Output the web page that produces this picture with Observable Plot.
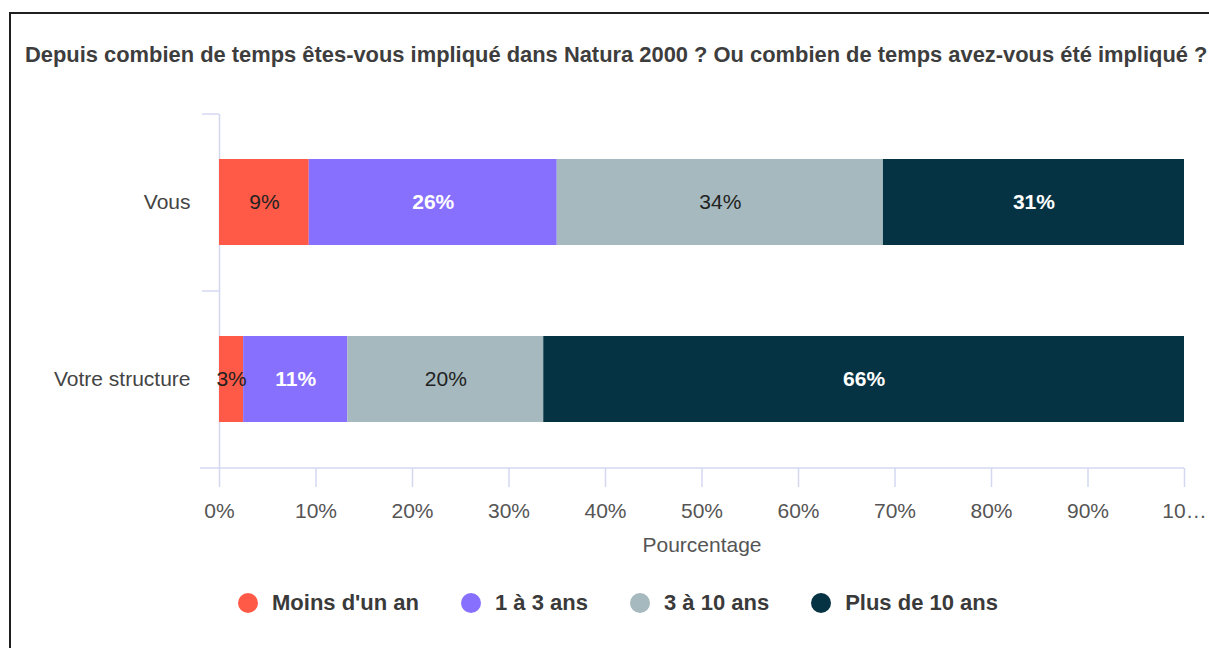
<!DOCTYPE html>
<html>
<head>
<meta charset="utf-8">
<script src="https://cdn.jsdelivr.net/npm/d3@7"></script>
<script src="https://cdn.jsdelivr.net/npm/@observablehq/plot@0.6"></script>
<style>
  html, body { margin: 0; padding: 0; background: #fff; }
  #wrap { position: relative; width: 1209px; height: 648px; overflow: hidden; background: #fff; font-family: "Liberation Sans", Arial, sans-serif; }
  #frame { position: absolute; left: 9px; top: 12px; width: 1400px; height: 800px; border-top: 2px solid #1f1f1f; border-left: 2px solid #1f1f1f; }
  #title { position: absolute; left: 25px; top: 42px; font-size: 21.9px; font-weight: bold; color: #3d3d3d; white-space: nowrap; }
  #chart { position: absolute; left: 0; top: 0; }
  #legend { position: absolute; left: 238px; top: 590px; display: flex; align-items: center; font-size: 22px; font-weight: bold; color: #3a3a3a; white-space: nowrap; }
  .item { display: flex; align-items: center; margin-right: 42px; }
  .dot { width: 20px; height: 20px; border-radius: 50%; margin-right: 14px; }
</style>
</head>
<body>
<div id="wrap">
  <div id="frame"></div>
  <div id="title"></div>
  <div id="chart"></div>
  <div id="legend"></div>
</div>
<script>
const titleText = "Depuis combien de temps êtes-vous impliqué dans Natura 2000 ? Ou combien de temps avez-vous été impliqué ?";
const categories = ["Vous", "Votre structure"];
const series = ["Moins d'un an", "1 à 3 ans", "3 à 10 ans", "Plus de 10 ans"];
const vousValues = [9.3, 25.7, 33.8, 31.2];
const structureValues = [2.5, 10.8, 20.3, 66.4];
const colors = ["#FF5A47", "#8870FF", "#A5B9BE", "#063343"];
const whiteText = [false, true, false, true];
const xTicks = [0, 10, 20, 30, 40, 50, 60, 70, 80, 90, 100];
const xTickLabels = ["0%", "10%", "20%", "30%", "40%", "50%", "60%", "70%", "80%", "90%", "10…"];
const xLabel = "Pourcentage";

document.getElementById("title").textContent = titleText;

const valuesByCat = [vousValues, structureValues];
const data = [];
categories.forEach((c, ci) => series.forEach((s, si) => {
  data.push({cat: c, series: s, value: valuesByCat[ci][si], si});
}));

const W = 1209, H = 570;
const mTop = 114, mBottom = 102, mLeft = 219, mRight = 25;
const step = (H - mTop - mBottom) / categories.length;
const axisColor = "#d3d8f0";

const stackOpts = {y: "cat", x: "value", z: "series", order: null};
const pct = d => Math.round(d.value) + "%";

const chart = Plot.plot({
  width: W, height: H,
  marginTop: mTop, marginBottom: mBottom, marginLeft: mLeft, marginRight: mRight,
  style: {fontFamily: "'Liberation Sans', Arial, sans-serif", background: "transparent", overflow: "visible"},
  x: {domain: [0, 100]},
  y: {domain: categories, paddingInner: 0.514, paddingOuter: 0.257},
  color: {domain: series, range: colors},
  marks: [
    Plot.ruleX([0], {stroke: axisColor, strokeWidth: 1.5}),
    Plot.ruleY(categories, {y: d => d, dy: -step / 2, x1: 0, x2: 0, insetLeft: -17, stroke: axisColor, strokeWidth: 1.5}),
    Plot.ruleY([categories[categories.length - 1]], {y: d => d, dy: step / 2, x1: 0, x2: 100, insetLeft: -19, stroke: axisColor, strokeWidth: 1.5}),
    Plot.barX(data, Plot.stackX({...stackOpts, fill: "series"})),
    Plot.text(data, Plot.stackX({...stackOpts, text: d => whiteText[d.si] ? "" : pct(d), fill: "#222", fontSize: 21})),
    Plot.text(data, Plot.stackX({...stackOpts, text: d => whiteText[d.si] ? pct(d) : "", fill: "#fff", fontSize: 21, fontWeight: "bold"})),
    Plot.axisY({tickSize: 0, tickPadding: 29, fontSize: 21, fill: "#444", label: null}),
    Plot.axisX({ticks: xTicks, tickFormat: d => xTickLabels[xTicks.indexOf(d)], tickSize: 19, tickPadding: 16,
      stroke: axisColor, strokeWidth: 1.5, fill: "#555", fontSize: 21,
      label: xLabel, labelArrow: "none", labelAnchor: "center", labelOffset: 83})
  ]
});
document.getElementById("chart").appendChild(chart);

const legend = document.getElementById("legend");
series.forEach((s, i) => {
  const item = document.createElement("div");
  item.className = "item";
  const dot = document.createElement("span");
  dot.className = "dot";
  dot.style.background = colors[i];
  const lab = document.createElement("span");
  lab.textContent = s;
  item.appendChild(dot);
  item.appendChild(lab);
  legend.appendChild(item);
});
</script>
</body>
</html>
